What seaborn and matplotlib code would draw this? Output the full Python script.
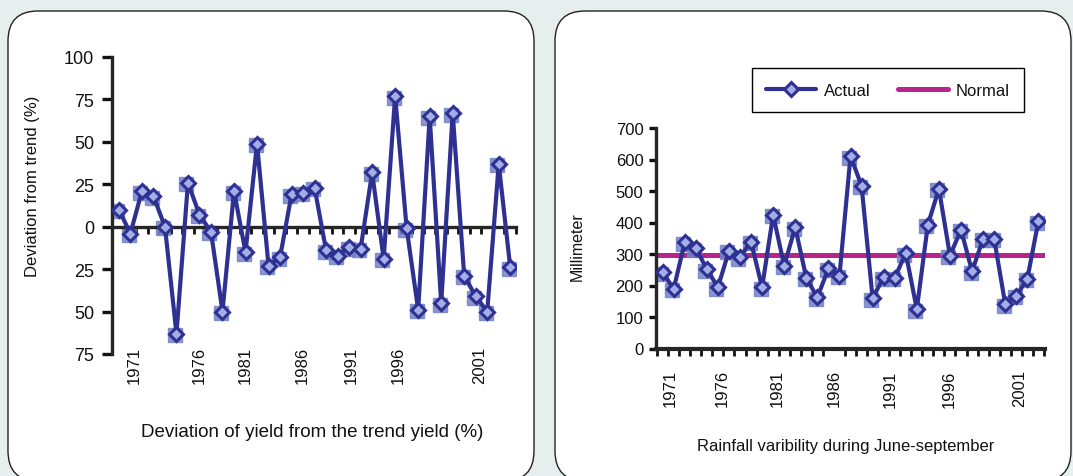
import numpy as np
import matplotlib.pyplot as plt
import matplotlib.transforms as mtransforms
from matplotlib.patches import FancyBboxPatch
import seaborn as sns

# deviation of yield from the trend yield (%), one value per season
yield_dev = [10, -4, 21, 18, 0, -63, 26, 7, -3, -50, 21, -15, 49, -23, -18,
             19, 20, 23, -14, -17, -12, -13, 32, -19, 77, -1, -49, 65, -45, 67,
             -29, -41, -50, 37, -24]
# June-September rainfall (mm)
rainfall = [242, 189, 337, 319, 252, 194, 310, 290, 339, 194, 424, 263, 385,
            224, 162, 254, 231, 611, 517, 160, 226, 224, 303, 125, 393, 507,
            295, 377, 245, 348, 348, 141, 167, 221, 404]
normal_rain = 296
year_labels = ["1971", "1976", "1981", "1986", "1991", "1996", "2001"]

sns.set_theme(style="ticks")
plt.rcParams["font.family"] = ["Liberation Sans", "DejaVu Sans"]
plt.rcParams["text.color"] = "#111111"
plt.rcParams["xtick.color"] = "#111111"
plt.rcParams["ytick.color"] = "#111111"

navy = "#2e3192"
face = "#a3aee6"
shade = "#7383c8"
magenta = "#b8238c"
bg = "#e7efee"

W, H = 1073, 477
fig = plt.figure(figsize=(W / 100, H / 100), dpi=100)
fig.patch.set_facecolor(bg)

# backdrop: two rounded white panels, in pixel units
back = fig.add_axes([0, 0, 1, 1], zorder=0)
back.set_xlim(0, W)
back.set_ylim(H, 0)
back.axis("off")
for x0, x1 in [(8, 534), (555, 1071)]:
    back.add_patch(FancyBboxPatch((x0, 12), x1 - x0, 470,
                                  boxstyle="round,pad=0,rounding_size=30",
                                  fc="white", ec="#222222", lw=1.0))


def px_axes(x0, x1, ytop, ybot):
    ax = fig.add_axes([x0 / W, 1 - ybot / H, (x1 - x0) / W, (ybot - ytop) / H], zorder=2)
    ax.patch.set_alpha(0)
    return ax


def px_text(x, y, s, **kw):
    fig.text(x / W, 1 - y / H, s, ha="center", va="center", **kw)


def shadow(ax, x, y):
    off = mtransforms.ScaledTranslation(-1.5 / 100, -1.5 / 100, fig.dpi_scale_trans)
    ax.plot(x, y, ls="none", marker="s", ms=9.5, color=shade, alpha=0.85,
            transform=ax.transData + off, zorder=2.5)


marker_kw = dict(marker="D", markersize=7.5, markerfacecolor=face,
                 markeredgecolor=navy, markeredgewidth=2.2)

# ---- left: yield deviation
ax1 = px_axes(112, 516, 58, 355)
idx = np.arange(len(yield_dev))
shadow(ax1, idx, yield_dev)
sns.lineplot(x=idx, y=yield_dev, ax=ax1, color=navy, linewidth=3, zorder=3, **marker_kw)
ax1.set_xlim(-0.6, len(idx) - 0.5)
ax1.set_ylim(-75, 100)
yt = np.arange(-75, 101, 25)
ax1.set_yticks(yt)
ax1.set_yticklabels([str(abs(v)) for v in yt])
ax1.set_xticks(idx + 0.5)
ax1.tick_params(axis="x", direction="out", length=5, width=2, labelbottom=False)
ax1.tick_params(axis="y", direction="out", length=7, width=2.4, pad=6, labelsize=13)
sns.despine(ax=ax1)
ax1.spines["bottom"].set_position(("data", 0))
ax1.spines["left"].set_linewidth(2.4)
ax1.spines["bottom"].set_linewidth(2.4)
left_label_pos = [1.3, 7.0, 11.0, 15.9, 20.2, 24.3, 31.3]
tr = mtransforms.blended_transform_factory(ax1.transData, ax1.transAxes)
for p, lab in zip(left_label_pos, year_labels):
    ax1.text(p, -0.036, lab, rotation=90, ha="center", va="center",
             fontsize=12, transform=tr)
ax1.set_xlabel("")
ax1.set_ylabel("")

# ---- right: rainfall
ax2 = px_axes(656, 1045, 129, 349.5)
idx2 = np.arange(len(rainfall))
ax2.axhline(normal_rain, color=magenta, linewidth=3.6, zorder=1.5, label="Normal")
shadow(ax2, idx2, rainfall)
sns.lineplot(x=idx2, y=rainfall, ax=ax2, color=navy, linewidth=3, zorder=3,
             label="Actual", **marker_kw)
ax2.set_xlim(-0.6, len(idx2) - 0.4)
ax2.set_ylim(0, 700)
ax2.set_yticks(np.arange(0, 701, 100))
right_label_pos = [0.66, 5.4, 10.4, 15.5, 20.6, 25.9, 32.3]
ax2.set_xticks(right_label_pos)
ax2.set_xticklabels(year_labels, rotation=90)
ax2.set_xticks(np.arange(len(idx2) + 1) - 0.5, minor=True)
ax2.tick_params(axis="x", which="major", length=0, pad=15, labelsize=12)
ax2.tick_params(axis="x", which="minor", direction="out", length=5, width=2)
ax2.tick_params(axis="y", direction="out", length=5, width=2.4, pad=4, labelsize=12)
sns.despine(ax=ax2)
ax2.spines["left"].set_linewidth(2.4)
ax2.spines["bottom"].set_linewidth(3)
ax2.set_xlabel("")
ax2.set_ylabel("")

h, l = ax2.get_legend_handles_labels()
order = [l.index("Actual"), l.index("Normal")]
ax2.get_legend().remove()
fig.legend([h[i] for i in order], [l[i] for i in order], loc="center",
           bbox_to_anchor=(888 / W, 1 - 91 / H), ncol=2, fontsize=12,
           frameon=True, fancybox=False, edgecolor="black", framealpha=1,
           handlelength=3.0, handletextpad=0.5, columnspacing=1.6,
           borderpad=0.85, borderaxespad=0)

# axis titles
px_text(33, 186, "Deviation from trend (%)", rotation=90, fontsize=12)
px_text(312, 433, "Deviation of yield from the trend yield (%)", fontsize=13.5)
px_text(577, 247, "Millimeter", rotation=90, fontsize=11.5)
px_text(846, 447, "Rainfall varibility during June-september", fontsize=12)

fig.savefig("out.png", dpi=100, facecolor=bg)
